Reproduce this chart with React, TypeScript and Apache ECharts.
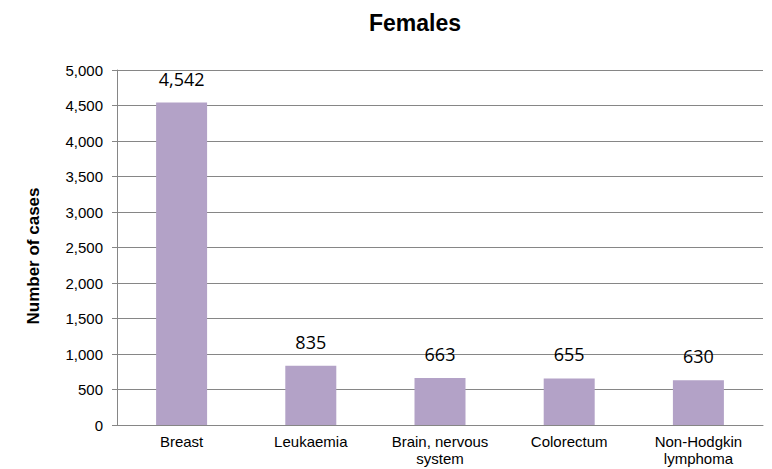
import React, { useEffect, useRef } from "react";
import * as echarts from "echarts";

const categories = ["Breast", "Leukaemia", "Brain, nervous\nsystem", "Colorectum", "Non-Hodgkin\nlymphoma"];
const cases = [4542, 835, 663, 655, 630];
const chartTitle = "Females";
const yAxisTitle = "Number of cases";

export default function App() {
  const ref = useRef<HTMLDivElement>(null);
  useEffect(() => {
    const chart = echarts.init(ref.current!, null, { renderer: "svg" });
    chart.setOption({
      animation: false,
      backgroundColor: "#ffffff",
      grid: { left: 117, right: 9, top: 70, bottom: 44, containLabel: false, outerBoundsMode: "none" },
      graphic: [
        {
          type: "text",
          x: 415,
          y: 23,
          style: {
            text: chartTitle,
            font: "bold 23px 'Liberation Sans', Arial, sans-serif",
            fill: "#000",
            textAlign: "center",
            textVerticalAlign: "middle",
          },
        },
        {
          type: "text",
          x: 33,
          y: 256,
          rotation: Math.PI / 2,
          style: {
            text: yAxisTitle,
            font: "bold 17px 'Liberation Sans', Arial, sans-serif",
            fill: "#000",
            textAlign: "center",
            textVerticalAlign: "middle",
          },
        },
      ],
      xAxis: {
        type: "category",
        data: categories,
        axisLine: { lineStyle: { color: "#868686", width: 1 } },
        axisTick: { show: false },
        axisLabel: {
          color: "#000",
          fontFamily: "'Liberation Sans', Arial, sans-serif",
          fontSize: 15,
          lineHeight: 17,
          margin: 8,
          interval: 0,
        },
      },
      yAxis: {
        type: "value",
        min: 0,
        max: 5000,
        interval: 500,
        axisLine: { show: true, lineStyle: { color: "#868686", width: 1 } },
        axisTick: { show: true, length: 5, lineStyle: { color: "#868686" } },
        splitLine: { lineStyle: { color: "#868686", width: 1 } },
        axisLabel: {
          color: "#000",
          fontFamily: "'Liberation Sans', Arial, sans-serif",
          fontSize: 15,
          margin: 14,
          formatter: (v: number) => v.toLocaleString("en-US"),
        },
      },
      series: [
        {
          type: "bar",
          data: cases,
          barWidth: 51,
          itemStyle: { color: "#B3A2C7" },
          label: {
            show: true,
            position: "top",
            distance: 15,
            color: "#000",
            fontFamily: "'Open Sans', sans-serif",
            fontSize: 18,
            formatter: (p: any) => Number(p.value).toLocaleString("en-US"),
          },
        },
      ],
    });
    return () => chart.dispose();
  }, []);
  return (
    <div
      ref={ref}
      style={{ position: "fixed", left: 0, top: 0, width: 772, height: 469 }}
    />
  );
}
